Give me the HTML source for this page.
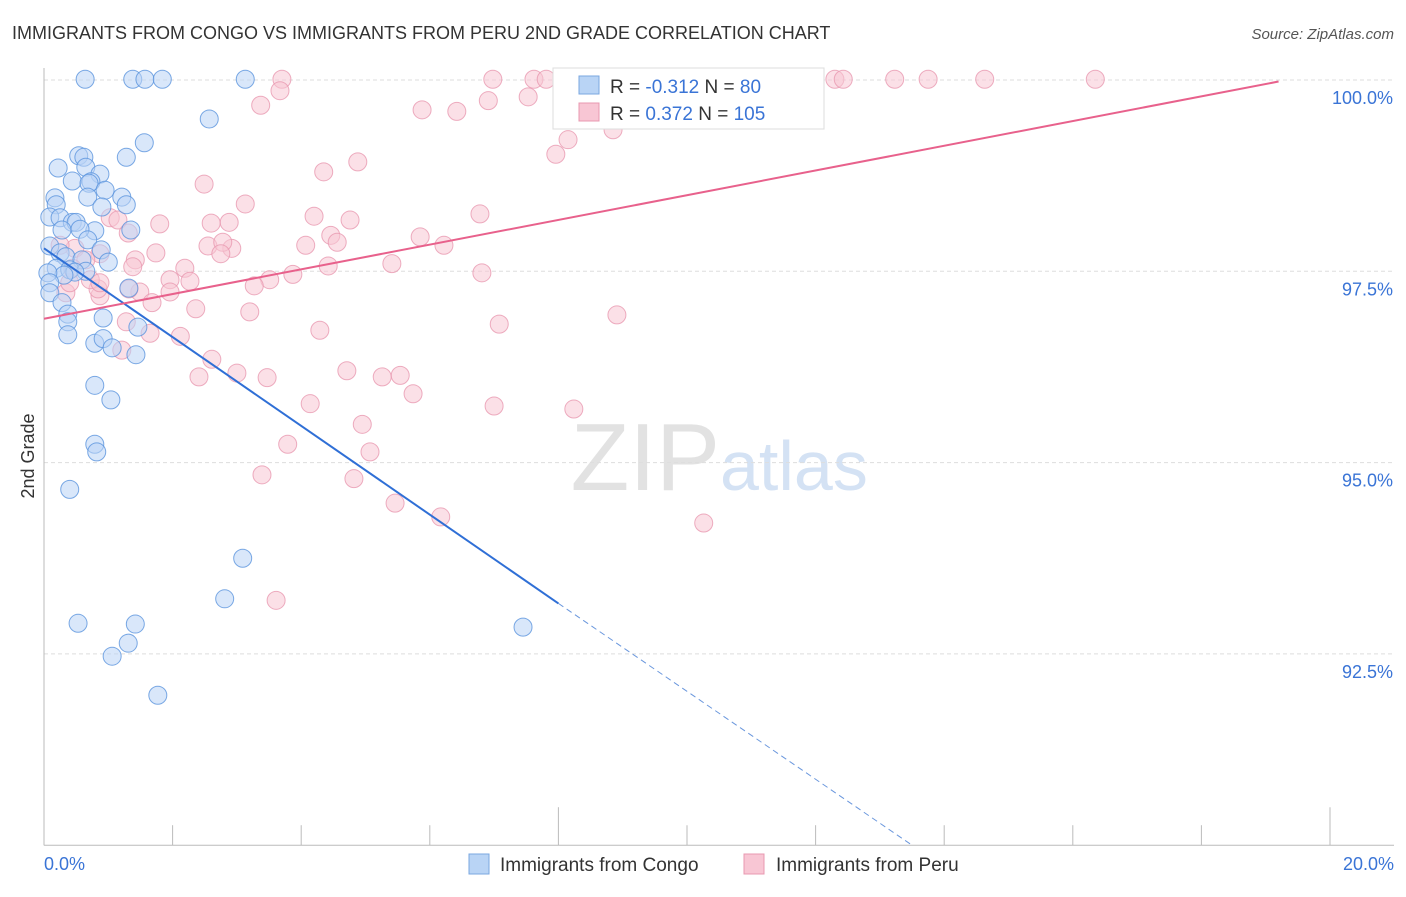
<!DOCTYPE html>
<html><head><meta charset="utf-8"><style>
body{margin:0;background:#fff;font-family:"Liberation Sans",sans-serif;}
svg text{font-family:"Liberation Sans",sans-serif;}
</style></head><body>
<svg id="chart" width="1406" height="892">
<text x="12" y="39" font-size="18" fill="#333">IMMIGRANTS FROM CONGO VS IMMIGRANTS FROM PERU 2ND GRADE CORRELATION CHART</text>
<text x="1394" y="39" font-size="15" fill="#555" text-anchor="end" font-style="italic">Source: ZipAtlas.com</text>
<text x="720" y="490" font-size="96" fill="#e2e2e2" text-anchor="end" font-family="Liberation Serif">ZIP</text>
<text x="720" y="490" font-size="70" fill="#d4e2f4">atlas</text>
<g id="grid"></g><g id="axes"></g><g id="pts"></g><g id="lines"></g>
<text transform="translate(34,456) rotate(-90)" font-size="18" fill="#333" text-anchor="middle">2nd Grade</text>
<g>
<rect x="553" y="68" width="271" height="61" fill="#fff" stroke="#ddd"/>
<rect x="579" y="76" width="20" height="18" fill="#b9d4f5" stroke="#7aa7e0"/>
<text x="610" y="93" font-size="19" fill="#333">R = <tspan fill="#3a74d6">-0.312</tspan>   N = <tspan fill="#3a74d6"> 80</tspan></text>
<rect x="579" y="103" width="20" height="18" fill="#f8c6d4" stroke="#e898b0"/>
<text x="610" y="120" font-size="19" fill="#333">R =  <tspan fill="#3a74d6">0.372</tspan>   N = <tspan fill="#3a74d6">105</tspan></text>
</g>
<g>
<rect x="469" y="854" width="20" height="20" fill="#b9d4f5" stroke="#7aa7e0"/>
<text x="500" y="871" font-size="19" fill="#333">Immigrants from Congo</text>
<rect x="744" y="854" width="20" height="20" fill="#f8c6d4" stroke="#e898b0"/>
<text x="776" y="871" font-size="19" fill="#333">Immigrants from Peru</text>
</g>
</svg>
<script>
const xTicks=[0,2,4,6,8,10,12,14,16,18,20];
const yTicks=[100,97.5,95,92.5];
const yTickLabels=["100.0%","97.5%","95.0%","92.5%"];
const xTickLabels=["0.0%","20.0%"];
const congoPx=[[85,79],[133,79],[145,79],[162,79],[245,79],[209,119],[144,143],[126,157],[79,156],[84,157],[58,168],[86,167],[100,174],[72,181],[91,182],[89,183],[105,190],[55,198],[122,197],[88,197],[56,205],[126,205],[102,207],[50,217],[60,218],[72,222],[76,222],[95,231],[131,230],[62,230],[80,229],[88,240],[50,246],[101,250],[60,253],[66,257],[108,262],[82,260],[56,268],[70,270],[86,271],[75,272],[64,275],[48,273],[50,283],[129,288],[50,293],[62,303],[103,318],[68,314],[68,322],[138,327],[68,335],[95,343],[103,339],[112,348],[136,355],[95,385],[111,400],[95,444],[97,452],[70,489],[243,558],[225,599],[78,623],[135,624],[128,643],[112,656],[158,695],[523,627]];
const peruPx=[[282,79],[493,79],[534,79],[546,79],[656,79],[659,79],[835,79],[843,79],[895,79],[928,79],[985,79],[1095,79],[280,91],[261,105],[488,101],[528,97],[422,110],[457,111],[614,110],[613,130],[568,140],[556,154],[358,162],[324,172],[204,184],[245,204],[229,222],[211,223],[160,224],[314,216],[350,220],[480,214],[331,235],[337,242],[306,245],[420,237],[444,245],[208,246],[232,248],[223,242],[221,254],[156,253],[110,218],[118,220],[128,233],[75,248],[100,254],[135,260],[133,267],[185,268],[293,274],[328,266],[392,264],[482,273],[270,280],[254,286],[170,280],[190,281],[170,292],[140,292],[129,289],[100,296],[98,289],[66,293],[70,283],[196,309],[152,303],[250,312],[499,324],[617,315],[320,330],[126,322],[150,333],[180,336],[212,359],[237,373],[199,377],[267,378],[347,371],[382,377],[400,375],[413,394],[310,404],[494,406],[574,409],[362,424],[288,444],[370,452],[262,475],[354,479],[395,503],[441,517],[704,523],[276,600],[122,350],[86,260],[60,245],[72,268],[90,280],[100,283]];
const toX=p=>+((p-44)/64.3).toFixed(2), toY=p=>+(100-(p-80)/76.52).toFixed(2);
const congoX=congoPx.map(p=>toX(p[0])), congoY=congoPx.map(p=>toY(p[1]));
const peruX=peruPx.map(p=>toX(p[0])), peruY=peruPx.map(p=>toY(p[1]));
const congoTrend=[[0,97.8],[8,93.16],[13.5,90]];
const peruTrend=[[0,96.88],[19.2,99.98]];
const X=v=>44+v*64.3, Y=v=>80+(100-v)*76.52;
const NS="http://www.w3.org/2000/svg";
function mk(t,a,parent){const e=document.createElementNS(NS,t);for(const k in a)e.setAttribute(k,a[k]);document.getElementById(parent).appendChild(e);return e;}
yTicks.forEach((v,i)=>{
 const g=mk('line',{x1:44,x2:1394,y1:Y(v),y2:Y(v),stroke:'#ddd','stroke-dasharray':'4,3'},'grid');
 
 
 const t=mk('text',{x:1393,y:Y(v)+24,'font-size':18,fill:'#3a74d6','text-anchor':'end'},'axes');t.textContent=yTickLabels[i];
 
 
});
const ax=mk('line',{x1:44,x2:1394,y1:Y(90),y2:Y(90),stroke:'#bbb'},'axes');


const ay=mk('line',{x1:44,x2:44,y1:68,y2:Y(90),stroke:'#bbb'},'axes');


xTicks.forEach((v,i)=>{
 const big=(i==4||i==10);
 const l=mk('line',{x1:X(v),x2:X(v),y1:Y(90)-(big?38:20),y2:Y(90),stroke:'#bbb'},'axes');
 
 
});
[[0,'start'],[20,'end']].forEach((d,i)=>{
 const t=mk('text',{x:i?1394:44,y:870,'font-size':18,fill:'#3a74d6','text-anchor':d[1]},'axes');t.textContent=xTickLabels[i];
 
 
});
function pts(xs,ys,fill,stroke,name){xs.forEach((x,i)=>{
 const c=mk('circle',{cx:X(x),cy:Y(ys[i]),r:9,fill:fill,'fill-opacity':0.55,stroke:stroke,'stroke-opacity':0.8,'stroke-width':1},'pts');
 
 
});}
pts(peruX,peruY,'#f8c6d4','#e898b0','peru-point');
pts(congoX,congoY,'#b9d4f5','#5a93dd','congo-point');
const b1=mk('line',{x1:X(congoTrend[0][0]),y1:Y(congoTrend[0][1]),x2:X(congoTrend[1][0]),y2:Y(congoTrend[1][1]),stroke:'#2f6fd6','stroke-width':2},'lines');


const b2=mk('line',{x1:X(congoTrend[1][0]),y1:Y(congoTrend[1][1]),x2:X(congoTrend[2][0]),y2:Y(congoTrend[2][1]),stroke:'#6a97dd','stroke-width':1,'stroke-dasharray':'6,4'},'lines');


const p1=mk('line',{x1:X(peruTrend[0][0]),y1:Y(peruTrend[0][1]),x2:X(peruTrend[1][0]),y2:Y(peruTrend[1][1]),stroke:'#e8618c','stroke-width':2},'lines');


</script>
</body></html>
